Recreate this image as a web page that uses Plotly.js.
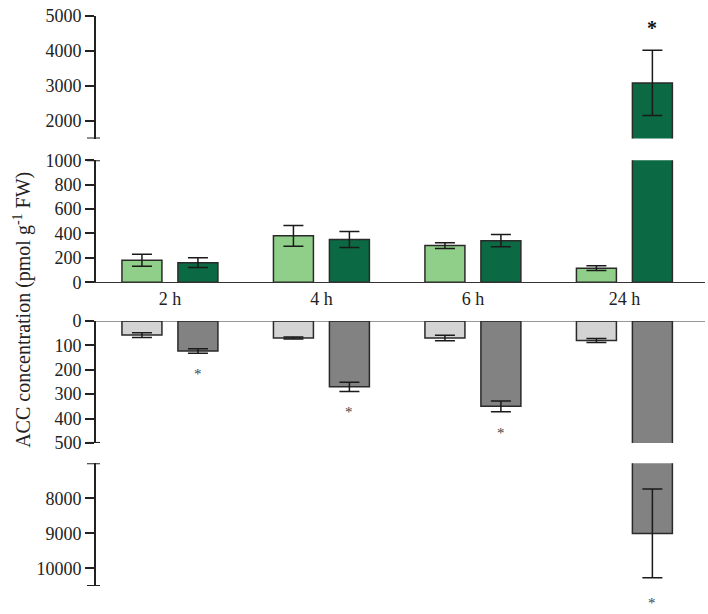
<!DOCTYPE html>
<html>
<head>
<meta charset="utf-8">
<script src="https://cdn.plot.ly/plotly-3.0.1.min.js"></script>
<style>html,body{margin:0;padding:0;background:#fff;}#chart{width:708px;height:614px;}</style>
</head>
<body>
<div id="chart"></div>
<script>
// ---- data ----
const categories = ['2 h', '4 h', '6 h', '24 h'];
const lightGreen = [180, 380, 300, 115];
const lightGreenErr = [50, 85, 23, 20];
const darkGreen = [160, 350, 340, 3090];
const darkGreenErr = [40, 65, 50, 930];
const lightGray = [58, 70, 70, 80];
const lightGrayErr = [10, 4, 11, 8];
const darkGray = [123, 270, 350, 9000];
const darkGrayErr = [9, 19, 22, 1265];
const darkGreenSig = [false, false, false, true];
const darkGraySig = [true, true, true, true];
const ticksTop = [2000, 3000, 4000, 5000];
const ticksUpper = [0, 200, 400, 600, 800, 1000];
const ticksLower = [0, 100, 200, 300, 400, 500];
const ticksBottom = [8000, 9000, 10000];

const FONT = 'Liberation Serif, Times New Roman, serif';
const colors = {lg: '#8fcf89', dg: '#0b6a43', lgr: '#d3d3d3', dgr: '#828282'};
const outline = {color: '#2a2a2a', width: 1.5};

function barTrace(vals, errs, color, yaxis) {
  return {
    type: 'bar', x: categories, y: vals, yaxis: yaxis, xaxis: 'x',
    marker: {color: color, line: outline},
    error_y: {type: 'data', array: errs, visible: true, color: '#1a1a1a', thickness: 1.5, width: 10},
    hoverinfo: 'x+y', showlegend: false
  };
}

const traces = [
  barTrace(lightGreen, lightGreenErr, colors.lg, 'y'),
  barTrace(darkGreen, darkGreenErr, colors.dg, 'y'),
  barTrace(lightGreen, lightGreenErr, colors.lg, 'y2'),
  barTrace(darkGreen, darkGreenErr, colors.dg, 'y2'),
  barTrace(lightGray, lightGrayErr, colors.lgr, 'y3'),
  barTrace(darkGray, darkGrayErr, colors.dgr, 'y3'),
  barTrace(lightGray, lightGrayErr, colors.lgr, 'y4'),
  barTrace(darkGray, darkGrayErr, colors.dgr, 'y4')
];

const yBase = {
  anchor: 'x', showline: true, linewidth: 2, linecolor: '#222',
  ticks: 'outside', ticklen: 9, tickwidth: 2, tickcolor: '#222',
  showgrid: false, zeroline: false,
  tickfont: {family: FONT, size: 18, color: '#222'}, fixedrange: true
};

function tickAxis(vals) {
  return {tickmode: 'array', tickvals: vals, ticktext: vals.map(String)};
}

// asterisks: placed from data (value + error) of significant bars
const annotations = [];
categories.forEach((c, i) => {
  if (darkGreenSig[i]) {
    const top = darkGreen[i] + darkGreenErr[i];
    annotations.push({x: c, y: top, xref: 'x', yref: top > 1000 ? 'y' : 'y2',
      text: '<b>*</b>', showarrow: false, xshift: 28, yshift: 22,
      xanchor: 'center', yanchor: 'middle',
      font: {family: FONT, size: 20, color: '#111'}});
  }
  if (darkGraySig[i]) {
    const bot = darkGray[i] + darkGrayErr[i];
    const big = bot > 500;
    annotations.push({x: c, y: bot, xref: 'x', yref: big ? 'y4' : 'y3',
      text: '*', showarrow: false, xshift: 28, yshift: big ? -25 : -21,
      xanchor: 'center', yanchor: 'middle',
      font: {family: FONT, size: 15, color: '#444'}});
  }
});
annotations.push({
  xref: 'paper', yref: 'paper', x: -0.122, y: 0.484, textangle: -90,
  xanchor: 'center', yanchor: 'middle',
  text: 'ACC concentration (pmol g<sup>-1</sup> FW)', showarrow: false,
  font: {family: FONT, size: 20, color: '#222'}
});

function cap(yref, yv) {
  return {type: 'line', xref: 'paper', xsizemode: 'pixel', xanchor: 0, x0: -9, x1: 4,
    yref: yref, y0: yv, y1: yv, line: {color: '#222', width: 2}};
}

const layout = {
  width: 708, height: 614,
  margin: {l: 96, r: 3, t: 16, b: 28},
  paper_bgcolor: '#fff', plot_bgcolor: '#fff',
  barmode: 'group', bargap: 0.261, bargroupgap: 0.2857,
  showlegend: false,
  font: {family: FONT, color: '#222'},
  xaxis: {
    type: 'category', categoryorder: 'array', categoryarray: categories,
    range: [-0.488, 3.532], anchor: 'y2', showline: true, linewidth: 1.2, linecolor: '#333',
    ticks: '', showgrid: false, zeroline: false,
    tickfont: {family: FONT, size: 18, color: '#222'}, fixedrange: true
  },
  yaxis: Object.assign({}, yBase, tickAxis(ticksTop), {domain: [0.785, 1], range: [1500, 5000]}),
  yaxis2: Object.assign({}, yBase, tickAxis(ticksUpper), {domain: [0.533, 0.747], range: [0, 1000]}),
  yaxis3: Object.assign({}, yBase, tickAxis(ticksLower), {domain: [0.251, 0.465], range: [500, 0]}),
  yaxis4: Object.assign({}, yBase, tickAxis(ticksBottom), {domain: [0, 0.2153], range: [10500, 7000]}),
  shapes: [
    {type: 'line', xref: 'paper', x0: 0, x1: 1, yref: 'y3', y0: 0, y1: 0, line: {color: '#333', width: 1.2}},
    cap('y', 1500), cap('y2', 1000), cap('y3', 500), cap('y4', 7000), cap('y4', 10500)
  ],
  annotations: annotations
};

Plotly.newPlot('chart', traces, layout, {displayModeBar: false, staticPlot: true});
</script>
</body>
</html>
